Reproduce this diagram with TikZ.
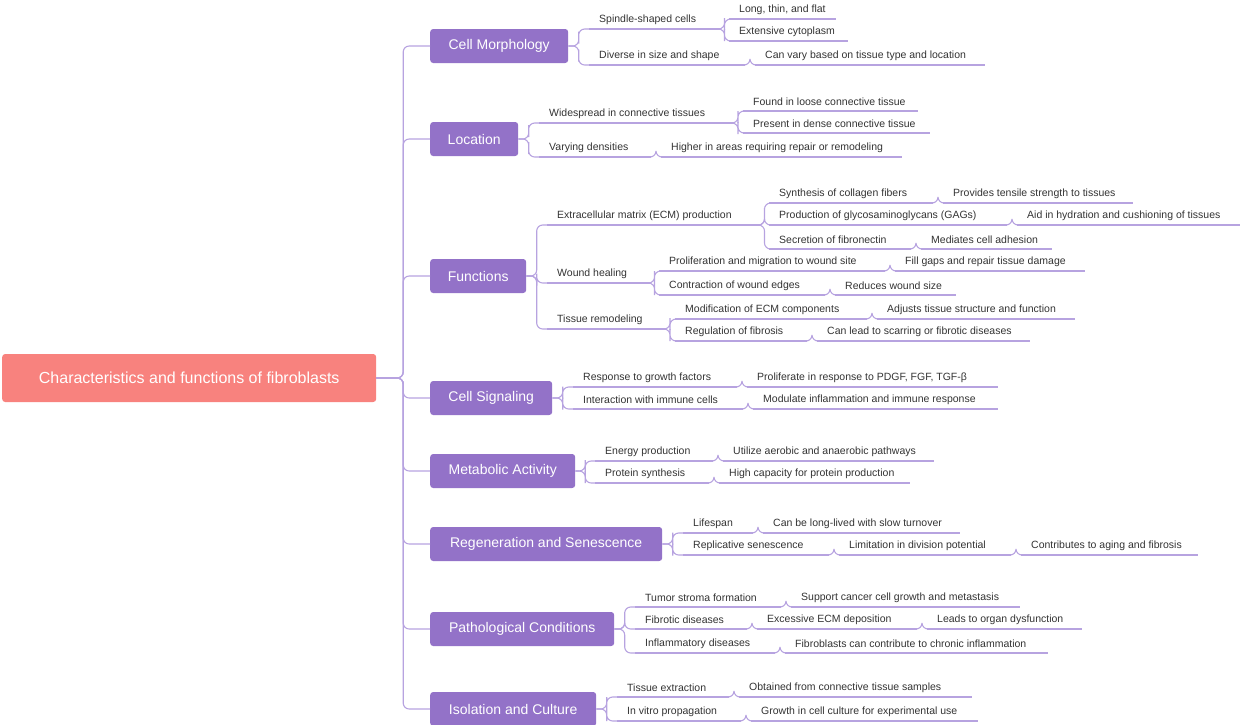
\documentclass[tikz,border=0pt]{standalone}
\usepackage{fontspec}
\setmainfont{Liberation Sans}
\usetikzlibrary{calc}
\definecolor{rootc}{HTML}{F8827E}
\definecolor{brc}{HTML}{9372C8}
\definecolor{lnc}{HTML}{B7A3E0}
\definecolor{txc}{HTML}{333333}
\tikzset{
  root/.style={fill=rootc,rounded corners=3pt,text=white,font=\fontsize{16}{18}\selectfont,minimum height=48pt,inner sep=0pt,anchor=west},
  br/.style={fill=brc,rounded corners=3pt,text=white,font=\fontsize{14}{16}\selectfont,minimum height=34pt,inner sep=0pt,anchor=west},
  lt/.style={text=txc,font=\fontsize{10.5}{12}\selectfont,inner sep=0pt,anchor=west},
  conn/.style={draw=lnc,line width=1.1pt,rounded corners=6pt},
}
% \lf{name}{textx}{texty}{endx}{text}
\newcommand\lf[5]{%
  \node[lt] (#1) at (#2,#3) {#5};
  \coordinate (#1-s) at (#2-10,#3+9);
  \coordinate (#1-e) at (#4,#3+9);
  \draw[conn] (#1-s) -- (#1-e);}
\newcommand\cn[2]{\draw[conn] (#1) -| ($(#1)!.5!(#2)$) |- (#2);}
\begin{document}
\begin{tikzpicture}[x=1pt,y=-1pt]
\useasboundingbox (0,0) rectangle (1240,724);
\node[root,minimum width=374pt] (r) at (2,378) {Characteristics and functions of fibroblasts};
% branches
\node[br,minimum width=138pt] (A) at (430,46) {Cell Morphology};
\node[br,minimum width=88pt] (B) at (430,139) {Location};
\node[br,minimum width=96pt] (C) at (430,276) {Functions};
\node[br,minimum width=122pt] (D) at (430,398) {Cell Signaling};
\node[br,minimum width=145pt] (E) at (430,471) {Metabolic Activity};
\node[br,minimum width=232pt] (F) at (430,544) {Regeneration and Senescence};
\node[br,minimum width=184pt] (G) at (430,629) {Pathological Conditions};
\node[br,minimum width=166pt] (H) at (430,709) {Isolation and Culture};
\foreach \b in {A,B,C,D,E,F,G,H}{\cn{r.east}{\b.west}}
% Cell Morphology
\lf{a1}{599}{20}{720}{Spindle-shaped cells}
\lf{a11}{739}{10}{836}{Long, thin, and flat}
\lf{a12}{739}{32}{848}{Extensive cytoplasm}
\lf{a2}{599}{56}{745}{Diverse in size and shape}
\lf{a21}{765}{56}{985}{Can vary based on tissue type and location}
\cn{A.east}{a1-s}\cn{A.east}{a2-s}
\cn{a1-e}{a11-s}\cn{a1-e}{a12-s}\cn{a2-e}{a21-s}
% Location
\lf{b1}{549}{114}{733}{Widespread in connective tissues}
\lf{b11}{753}{102}{918}{Found in loose connective tissue}
\lf{b12}{753}{124}{930}{Present in dense connective tissue}
\lf{b2}{549}{148}{651}{Varying densities}
\lf{b21}{671}{148}{902}{Higher in areas requiring repair or remodeling}
\cn{B.east}{b1-s}\cn{B.east}{b2-s}
\cn{b1-e}{b11-s}\cn{b1-e}{b12-s}\cn{b2-e}{b21-s}
% Functions
\lf{c1}{557}{216}{760}{Extracellular matrix (ECM) production}
\lf{c11}{779}{194}{933}{Synthesis of collagen fibers}
\lf{c111}{953}{194}{1133}{Provides tensile strength to tissues}
\lf{c12}{779}{216}{1007}{Production of glycosaminoglycans (GAGs)}
\lf{c121}{1027}{216}{1240}{Aid in hydration and cushioning of tissues}
\lf{c13}{779}{240}{911}{Secretion of fibronectin}
\lf{c131}{931}{240}{1052}{Mediates cell adhesion}
\lf{c2}{557}{274}{650}{Wound healing}
\lf{c21}{669}{262}{885}{Proliferation and migration to wound site}
\lf{c211}{905}{262}{1085}{Fill gaps and repair tissue damage}
\lf{c22}{669}{286}{825}{Contraction of wound edges}
\lf{c221}{845}{286}{956}{Reduces wound size}
\lf{c3}{557}{320}{665}{Tissue remodeling}
\lf{c31}{685}{310}{867}{Modification of ECM components}
\lf{c311}{887}{310}{1075}{Adjusts tissue structure and function}
\lf{c32}{685}{332}{807}{Regulation of fibrosis}
\lf{c321}{827}{332}{1030}{Can lead to scarring or fibrotic diseases}
\cn{C.east}{c1-s}\cn{C.east}{c2-s}\cn{C.east}{c3-s}
\cn{c1-e}{c11-s}\cn{c1-e}{c12-s}\cn{c1-e}{c13-s}
\cn{c11-e}{c111-s}\cn{c12-e}{c121-s}\cn{c13-e}{c131-s}
\cn{c2-e}{c21-s}\cn{c2-e}{c22-s}\cn{c21-e}{c211-s}\cn{c22-e}{c221-s}
\cn{c3-e}{c31-s}\cn{c3-e}{c32-s}\cn{c31-e}{c311-s}\cn{c32-e}{c321-s}
% Cell Signaling
\lf{d1}{583}{378}{737}{Response to growth factors}
\lf{d11}{757}{378}{998}{Proliferate in response to PDGF, FGF, TGF-β}
\lf{d2}{583}{400}{743}{Interaction with immune cells}
\lf{d21}{763}{400}{998}{Modulate inflammation and immune response}
\cn{D.east}{d1-s}\cn{D.east}{d2-s}\cn{d1-e}{d11-s}\cn{d2-e}{d21-s}
% Metabolic
\lf{e1}{605}{452}{713}{Energy production}
\lf{e11}{733}{452}{934}{Utilize aerobic and anaerobic pathways}
\lf{e2}{605}{474}{709}{Protein synthesis}
\lf{e21}{729}{474}{910}{High capacity for protein production}
\cn{E.east}{e1-s}\cn{E.east}{e2-s}\cn{e1-e}{e11-s}\cn{e2-e}{e21-s}
% Regeneration
\lf{f1}{693}{524}{753}{Lifespan}
\lf{f11}{773}{524}{960}{Can be long-lived with slow turnover}
\lf{f2}{693}{546}{829}{Replicative senescence}
\lf{f21}{849}{546}{1011}{Limitation in division potential}
\lf{f211}{1031}{546}{1198}{Contributes to aging and fibrosis}
\cn{F.east}{f1-s}\cn{F.east}{f2-s}\cn{f1-e}{f11-s}\cn{f2-e}{f21-s}\cn{f21-e}{f211-s}
% Pathological
\lf{g1}{645}{598}{781}{Tumor stroma formation}
\lf{g11}{801}{598}{1020}{Support cancer cell growth and metastasis}
\lf{g2}{645}{620}{747}{Fibrotic diseases}
\lf{g21}{767}{620}{917}{Excessive ECM deposition}
\lf{g211}{937}{620}{1082}{Leads to organ dysfunction}
\lf{g3}{645}{644}{775}{Inflammatory diseases}
\lf{g31}{795}{644}{1048}{Fibroblasts can contribute to chronic inflammation}
\cn{G.east}{g1-s}\cn{G.east}{g2-s}\cn{G.east}{g3-s}
\cn{g1-e}{g11-s}\cn{g2-e}{g21-s}\cn{g21-e}{g211-s}\cn{g3-e}{g31-s}
% Isolation
\lf{h1}{627}{688}{729}{Tissue extraction}
\lf{h11}{749}{688}{972}{Obtained from connective tissue samples}
\lf{h2}{627}{712}{741}{In vitro propagation}
\lf{h21}{761}{712}{978}{Growth in cell culture for experimental use}
\cn{H.east}{h1-s}\cn{H.east}{h2-s}\cn{h1-e}{h11-s}\cn{h2-e}{h21-s}
\end{tikzpicture}
\end{document}
